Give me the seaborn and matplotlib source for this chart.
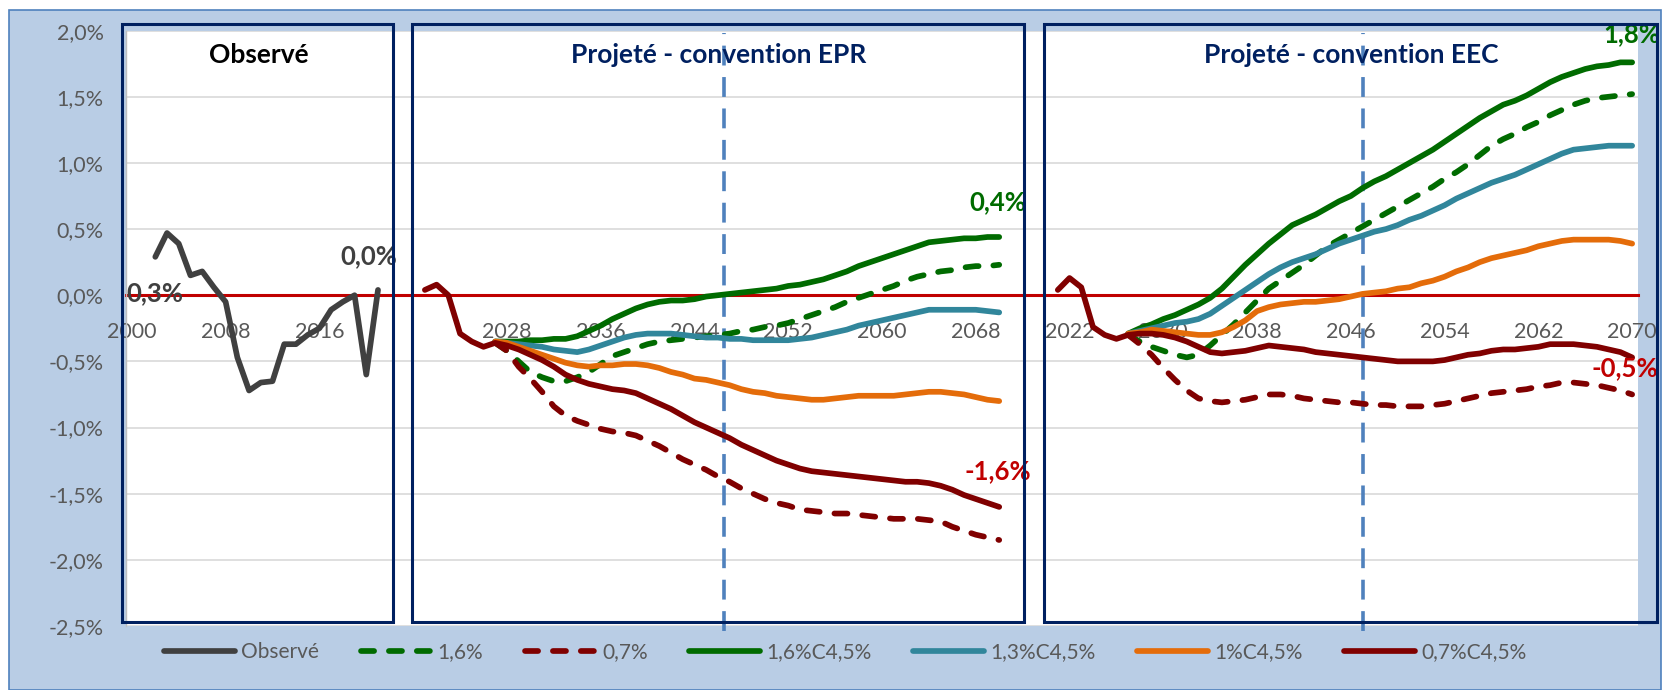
import numpy as np
import pandas as pd
import seaborn as sns
import matplotlib.pyplot as plt
from matplotlib.patches import Rectangle
from matplotlib.ticker import FuncFormatter

sns.set_style("white")
plt.rcParams['font.family'] = ['Lato', 'DejaVu Sans']

nan = np.nan

# x axis: observed years, a gap, the EPR projection, a gap, the EEC projection
obs_years = list(range(2000, 2022))
proj_years = list(range(2021, 2071))
gap1, gap2 = 3, 4
categories = ([str(y) for y in obs_years] + [''] * gap1 +
              [str(y) for y in proj_years] + [''] * gap2 +
              [str(y) for y in proj_years])

# observed, 2000-2021 (%)
observe = [nan, nan, 0.29, 0.47, 0.39, 0.15, 0.18, 0.06, -0.05, -0.47,
           -0.72, -0.66, -0.65, -0.37, -0.37, -0.30, -0.25, -0.11, -0.05, 0.00,
           -0.60, 0.04]

# projections 2021-2070, convention EPR
epr_07c = [0.04, 0.08, 0.00, -0.29, -0.35, -0.39, -0.36, -0.38, -0.41, -0.45,
           -0.49, -0.54, -0.60, -0.64, -0.67, -0.69, -0.71, -0.72, -0.74, -0.78,
           -0.82, -0.86, -0.91, -0.96, -1.00, -1.04, -1.08, -1.13, -1.17, -1.21,
           -1.25, -1.28, -1.31, -1.33, -1.34, -1.35, -1.36, -1.37, -1.38, -1.39,
           -1.40, -1.41, -1.41, -1.42, -1.44, -1.47, -1.51, -1.54, -1.57, -1.60]
epr_07 = [nan, nan, nan, nan, nan, nan, -0.36, -0.42, -0.54, -0.63,
          -0.73, -0.84, -0.91, -0.95, -0.98, -1.01, -1.03, -1.04, -1.06, -1.10,
          -1.14, -1.19, -1.24, -1.28, -1.32, -1.37, -1.41, -1.46, -1.50, -1.54,
          -1.57, -1.59, -1.62, -1.63, -1.64, -1.65, -1.65, -1.66, -1.67, -1.68,
          -1.69, -1.69, -1.69, -1.70, -1.71, -1.75, -1.78, -1.81, -1.83, -1.85]
epr_1c = [nan, nan, nan, nan, nan, nan, -0.35, -0.36, -0.39, -0.42,
          -0.45, -0.48, -0.51, -0.53, -0.54, -0.53, -0.53, -0.52, -0.52, -0.53,
          -0.55, -0.58, -0.60, -0.63, -0.64, -0.66, -0.68, -0.71, -0.73, -0.74,
          -0.76, -0.77, -0.78, -0.79, -0.79, -0.78, -0.77, -0.76, -0.76, -0.76,
          -0.76, -0.75, -0.74, -0.73, -0.73, -0.74, -0.75, -0.77, -0.79, -0.80]
epr_13c = [nan, nan, nan, nan, nan, nan, -0.35, -0.36, -0.37, -0.38,
           -0.39, -0.41, -0.42, -0.43, -0.41, -0.38, -0.35, -0.32, -0.30, -0.29,
           -0.29, -0.29, -0.30, -0.31, -0.32, -0.32, -0.33, -0.33, -0.34, -0.34,
           -0.34, -0.34, -0.33, -0.32, -0.30, -0.28, -0.26, -0.23, -0.21, -0.19,
           -0.17, -0.15, -0.13, -0.11, -0.11, -0.11, -0.11, -0.11, -0.12, -0.13]
epr_16c = [nan, nan, nan, nan, nan, nan, -0.35, -0.35, -0.35, -0.34,
           -0.34, -0.33, -0.33, -0.31, -0.27, -0.23, -0.18, -0.14, -0.10, -0.07,
           -0.05, -0.04, -0.04, -0.03, -0.01, 0.00, 0.01, 0.02, 0.03, 0.04,
           0.05, 0.07, 0.08, 0.10, 0.12, 0.15, 0.18, 0.22, 0.25, 0.28,
           0.31, 0.34, 0.37, 0.40, 0.41, 0.42, 0.43, 0.43, 0.44, 0.44]
epr_16 = [nan, nan, nan, nan, nan, nan, -0.36, -0.42, -0.50, -0.58,
          -0.62, -0.65, -0.65, -0.62, -0.58, -0.52, -0.46, -0.43, -0.40, -0.37,
          -0.35, -0.34, -0.33, -0.32, -0.31, -0.30, -0.29, -0.27, -0.26, -0.24,
          -0.23, -0.21, -0.18, -0.15, -0.12, -0.09, -0.05, -0.02, 0.01, 0.04,
          0.07, 0.11, 0.14, 0.16, 0.18, 0.19, 0.21, 0.22, 0.22, 0.23]

# projections 2021-2070, convention EEC
eec_07c = [0.04, 0.13, 0.06, -0.24, -0.30, -0.33, -0.30, -0.29, -0.29, -0.30,
           -0.32, -0.35, -0.39, -0.43, -0.44, -0.43, -0.42, -0.40, -0.38, -0.39,
           -0.40, -0.41, -0.43, -0.44, -0.45, -0.46, -0.47, -0.48, -0.49, -0.50,
           -0.50, -0.50, -0.50, -0.49, -0.47, -0.45, -0.44, -0.42, -0.41, -0.41,
           -0.40, -0.39, -0.37, -0.37, -0.37, -0.38, -0.39, -0.41, -0.43, -0.47]
eec_07 = [nan, nan, nan, nan, nan, nan, -0.30, -0.37, -0.45, -0.55,
          -0.64, -0.72, -0.78, -0.80, -0.81, -0.80, -0.79, -0.77, -0.75, -0.75,
          -0.76, -0.78, -0.79, -0.80, -0.81, -0.81, -0.82, -0.83, -0.83, -0.84,
          -0.84, -0.84, -0.83, -0.82, -0.80, -0.78, -0.76, -0.74, -0.73, -0.72,
          -0.71, -0.69, -0.68, -0.66, -0.66, -0.67, -0.68, -0.70, -0.72, -0.75]
eec_1c = [nan, nan, nan, nan, nan, nan, -0.29, -0.28, -0.26, -0.27,
          -0.28, -0.29, -0.30, -0.30, -0.28, -0.24, -0.19, -0.12, -0.09, -0.07,
          -0.06, -0.05, -0.05, -0.04, -0.03, -0.01, 0.01, 0.02, 0.03, 0.05,
          0.06, 0.09, 0.11, 0.14, 0.18, 0.21, 0.25, 0.28, 0.30, 0.32,
          0.34, 0.37, 0.39, 0.41, 0.42, 0.42, 0.42, 0.42, 0.41, 0.39]
eec_13c = [nan, nan, nan, nan, nan, nan, -0.29, -0.27, -0.25, -0.23,
           -0.21, -0.20, -0.18, -0.14, -0.08, -0.02, 0.04, 0.10, 0.16, 0.21,
           0.25, 0.28, 0.31, 0.35, 0.39, 0.42, 0.45, 0.48, 0.50, 0.53,
           0.57, 0.60, 0.64, 0.68, 0.73, 0.77, 0.81, 0.85, 0.88, 0.91,
           0.95, 0.99, 1.03, 1.07, 1.10, 1.11, 1.12, 1.13, 1.13, 1.13]
eec_16c = [nan, nan, nan, nan, nan, nan, -0.29, -0.25, -0.22, -0.18,
           -0.15, -0.11, -0.07, -0.02, 0.05, 0.14, 0.23, 0.31, 0.39, 0.46,
           0.53, 0.57, 0.61, 0.66, 0.71, 0.75, 0.81, 0.86, 0.90, 0.95,
           1.00, 1.05, 1.10, 1.16, 1.22, 1.28, 1.34, 1.39, 1.44, 1.47,
           1.51, 1.56, 1.61, 1.65, 1.68, 1.71, 1.73, 1.74, 1.76, 1.76]
eec_16 = [nan, nan, nan, nan, nan, nan, -0.30, -0.35, -0.39, -0.42,
          -0.45, -0.47, -0.45, -0.38, -0.30, -0.22, -0.13, -0.04, 0.05, 0.11,
          0.17, 0.23, 0.30, 0.37, 0.42, 0.47, 0.52, 0.57, 0.62, 0.67,
          0.72, 0.77, 0.82, 0.88, 0.93, 0.99, 1.06, 1.13, 1.18, 1.22,
          1.27, 1.31, 1.36, 1.40, 1.44, 1.47, 1.49, 1.50, 1.51, 1.52]

# reference year of the vertical dashed lines (EPR, EEC)
ref_epr, ref_eec = 2046.5, 2047

GREEN = '#006b00'
DARKRED = '#800000'
series = [
    # label, EPR values, EEC values, colour, dashed
    ('1,6%', epr_16, eec_16, GREEN, True),
    ('0,7%', epr_07, eec_07, DARKRED, True),
    ('1,6%C4,5%', epr_16c, eec_16c, GREEN, False),
    ('1,3%C4,5%', epr_13c, eec_13c, '#31869b', False),
    ('1%C4,5%', epr_1c, eec_1c, '#e46c0a', False),
    ('0,7%C4,5%', epr_07c, eec_07c, DARKRED, False),
]

W, H = 1664, 690
fig = plt.figure(figsize=(W / 100, H / 100), dpi=100)
fig.patch.set_facecolor('white')


def fx(px):
    return px / W


def fy(py):
    return 1 - py / H


# chart area
fig.patches.append(Rectangle((fx(9), 0), fx(1652), fy(10), transform=fig.transFigure,
                             facecolor='#b9cde5', edgecolor='#4f81bd', lw=1.2, zorder=-5))

ax = fig.add_axes([fx(126), fy(626), fx(1512), 595.4 / H])
ax.set_facecolor('white')

pos_obs = np.arange(len(obs_years))
off_epr = len(obs_years) + gap1
off_eec = off_epr + len(proj_years) + gap2
pos_epr = off_epr + np.arange(len(proj_years))
pos_eec = off_eec + np.arange(len(proj_years))

LW = 4.1
style_solid = dict(solid_capstyle='round', solid_joinstyle='round')
style_dash = dict(linestyle=(0, (2.3, 2.6)), dash_capstyle='round', dash_joinstyle='round')

sns.lineplot(x=pos_obs, y=observe, ax=ax, color='#404040', lw=LW, label='Observé',
             estimator=None, **style_solid)
for lab, v_epr, v_eec, col, dashed in series:
    st = style_dash if dashed else style_solid
    sns.lineplot(x=pos_epr, y=v_epr, ax=ax, color=col, lw=LW, label=lab,
                 estimator=None, **st)
    sns.lineplot(x=pos_eec, y=v_eec, ax=ax, color=col, lw=LW, label='_nolegend_',
                 estimator=None, **st)

ax.set_xlim(-0.5, len(categories) - 0.5)
ax.set_ylim(-2.5, 2.0)
ax.set_yticks(np.arange(-2.5, 2.01, 0.5))
ax.yaxis.set_major_formatter(FuncFormatter(lambda v, p: f"{round(v, 1):.1f}%".replace('.', ',')))
ax.set_xticks(range(0, len(categories), 8))
ax.set_xticklabels(categories[::8])
ax.tick_params(axis='x', length=0, labelsize=15.5, labelcolor='#595959', pad=19)
ax.tick_params(axis='y', length=0, labelsize=15.5, labelcolor='#595959', pad=16)
ax.yaxis.grid(True, color='#d9d9d9', lw=1.2)
ax.xaxis.grid(False)
ax.set_axisbelow(True)
for s in ['top', 'right']:
    ax.spines[s].set_visible(False)
ax.spines['left'].set_color('#bfbfbf')
ax.spines['left'].set_linewidth(1)
ax.spines['bottom'].set_position(('data', 0))
ax.spines['bottom'].set_color('#c00000')
ax.spines['bottom'].set_linewidth(2.2)
ax.spines['bottom'].set_zorder(1.5)

# vertical dashed reference lines
for ref, off in [(ref_epr, off_epr), (ref_eec, off_eec)]:
    ax.axvline(off + ref - proj_years[0], ymin=-0.009, ymax=0.996, clip_on=False,
               color='#4f81bd', lw=2.6, linestyle=(0, (5.5, 3.2)), zorder=1.8)


def fmt(v):
    return f"{v:.1f}%".replace('.', ',')


# value labels at the ends of some series
lab_kw = dict(textcoords='offset points', ha='center', va='center', fontsize=18.5,
              fontweight='bold', annotation_clip=False)
ax.annotate(fmt(observe[2]), (pos_obs[2], observe[2]), xytext=(0, -26), color='#404040', **lab_kw)
ax.annotate(fmt(observe[-1]), (pos_obs[-1], observe[-1]), xytext=(-6.5, 24), color='#404040', **lab_kw)
ax.annotate(fmt(epr_16c[-1]), (pos_epr[-1], epr_16c[-1]), xytext=(-1.3, 25), color=GREEN, **lab_kw)
ax.annotate(fmt(epr_07c[-1]), (pos_epr[-1], epr_07c[-1]), xytext=(-1, 26), color='#c00000', **lab_kw)
ax.annotate(fmt(eec_16c[-1]), (pos_eec[-1], eec_16c[-1]), xytext=(0, 20.6), color=GREEN, **lab_kw)
ax.annotate(fmt(eec_07c[-1]), (pos_eec[-1], eec_07c[-1]), xytext=(-5, -8), color='#c00000', **lab_kw)

# panel frames and titles
panels = [('Observé', 122, 393, 'black'),
          ('Projeté - convention EPR', 412, 1024, '#002060'),
          ('Projeté - convention EEC', 1044, 1657, '#002060')]
for title, x0, x1, tcol in panels:
    fig.patches.append(Rectangle((fx(x0), fy(622)), fx(x1 - x0), fy(24) - fy(622),
                                 transform=fig.transFigure, fill=False,
                                 edgecolor='#002060', lw=2.2, zorder=5))
    fig.text(fx((x0 + x1) / 2 + 1), fy(55), title, ha='center', va='center',
             fontsize=19, fontweight='bold', color=tcol)

handles, labels = ax.get_legend_handles_labels()
ax.legend(handles, labels, loc='center', bbox_to_anchor=(0.508, fy(652)),
          bbox_transform=fig.transFigure, ncol=7, frameon=False, fontsize=15,
          handlelength=3.4, handletextpad=0.3, columnspacing=2.0, labelcolor='#595959')

fig.savefig('out.png', dpi=100, facecolor=fig.get_facecolor())
